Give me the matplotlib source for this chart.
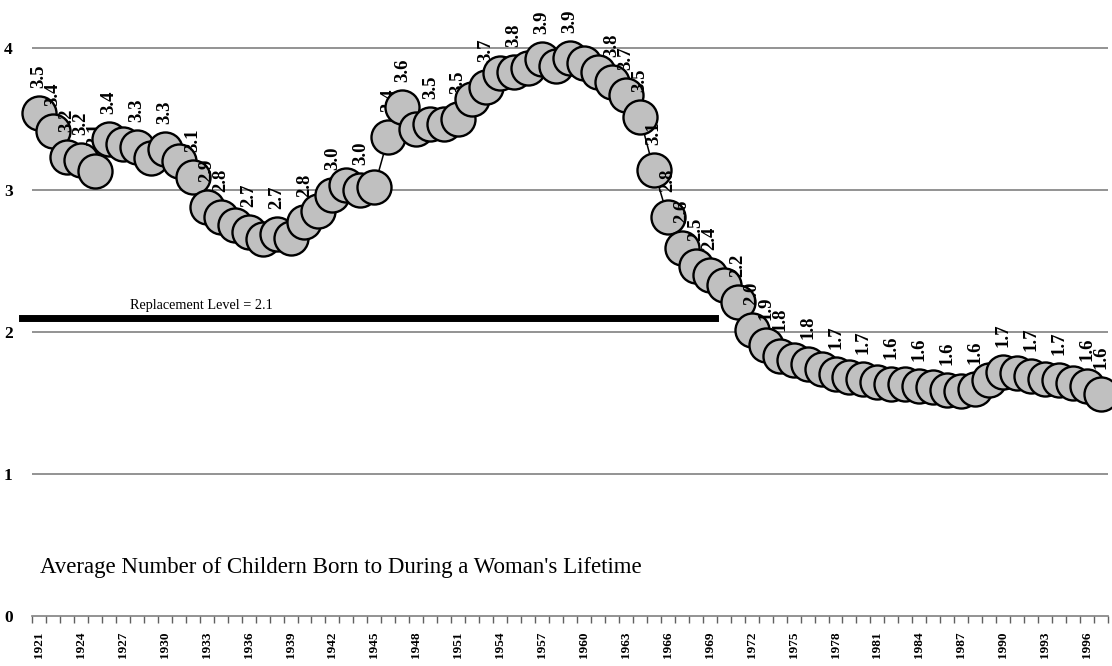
import matplotlib
matplotlib.use("Agg")
import matplotlib.pyplot as plt
from matplotlib.ticker import FixedLocator

plt.rcParams['font.family'] = ['Liberation Serif', 'DejaVu Serif']

# total fertility rate, 1921-1997
years = list(range(1921, 1998))
tfr = [3.54, 3.41, 3.23, 3.21, 3.13, 3.36, 3.32, 3.30, 3.22, 3.29,
       3.20, 3.09, 2.88, 2.81, 2.75, 2.70, 2.65, 2.69, 2.66, 2.77,
       2.85, 2.96, 3.03, 3.00, 3.02, 3.37, 3.58, 3.43, 3.46, 3.46,
       3.50, 3.64, 3.72, 3.82, 3.83, 3.86, 3.92, 3.87, 3.93, 3.89,
       3.83, 3.76, 3.67, 3.51, 3.14, 2.81, 2.59, 2.46, 2.40, 2.33,
       2.21, 2.01, 1.91, 1.83, 1.80, 1.77, 1.74, 1.70, 1.68, 1.67,
       1.65, 1.63, 1.63, 1.62, 1.61, 1.59, 1.58, 1.60, 1.66, 1.72,
       1.71, 1.69, 1.67, 1.66, 1.64, 1.62, 1.56]

labelled = [1921, 1922, 1923, 1924, 1925, 1926, 1928, 1930, 1932, 1933,
            1934, 1936, 1938, 1940, 1942, 1944, 1946, 1947, 1949, 1951,
            1953, 1955, 1957, 1959, 1962, 1963, 1964, 1965, 1966, 1967,
            1968, 1969, 1971, 1972, 1973, 1974, 1976, 1978, 1980, 1982,
            1984, 1986, 1988, 1990, 1992, 1994, 1996, 1997]

tick_years = years[::3]
replacement = 2.1
yticks = [0, 1, 2, 3, 4]

fig = plt.figure(figsize=(11.12, 6.66), dpi=100)
ax = fig.add_axes([32 / 1112, 50 / 666, 1076 / 1112, 611 / 666])

xs = list(range(len(years)))
ax.plot(xs, tfr, color='black', lw=1.1, zorder=2)

# each marker then its label, so later circles sit on top of earlier labels
for i, (yr, v) in enumerate(zip(years, tfr)):
    ax.plot(i, v, 'o', ms=24.5, mfc='#c0c0c0', mec='black', mew=1.7,
            zorder=3 + 2 * i, clip_on=False)
    if yr in labelled:
        ax.annotate(f"{v:.1f}", (i, v), xytext=(0, 18), textcoords='offset points',
                    rotation=90, ha='center', va='bottom', fontsize=13.5,
                    fontweight='bold', zorder=4 + 2 * i, annotation_clip=False)

ax.set_xlim(-0.5, len(years) - 0.5)
ax.set_ylim(0, 4.3)

for g in yticks[1:]:
    ax.axhline(g, color='#808080', lw=1.2, zorder=1)

ax.axhline(replacement, xmin=-0.0093, xmax=0.635, color='black', lw=5,
           zorder=200, clip_on=False)
ax.annotate("Replacement Level = 2.1", (6.5, replacement), xytext=(0, 6),
            textcoords='offset points', fontsize=10.3, va='baseline', zorder=200)

ax.text(40 / 1112, 93 / 666, "Average Number of Childern Born to During a Woman's Lifetime",
        transform=fig.transFigure, fontsize=16.5, va='baseline')

for s in ['top', 'right', 'left']:
    ax.spines[s].set_visible(False)
ax.spines['bottom'].set_color('#808080')
ax.spines['bottom'].set_linewidth(1.2)

ax.set_yticks(yticks)
ax.set_yticklabels([str(t) for t in yticks], fontsize=12.5, fontweight='bold')
ax.tick_params(axis='y', length=0, pad=14)

ax.set_xticks([years.index(t) for t in tick_years])
ax.set_xticklabels([str(t) for t in tick_years], rotation=90, fontsize=9.5,
                   fontweight='bold')
ax.tick_params(axis='x', which='major', length=0, pad=11)
ax.xaxis.set_minor_locator(FixedLocator([i - 0.5 for i in range(len(years) + 1)]))
ax.tick_params(axis='x', which='minor', length=5, width=1, color='#606060',
               direction='out')

fig.savefig('out.png', dpi=100)
